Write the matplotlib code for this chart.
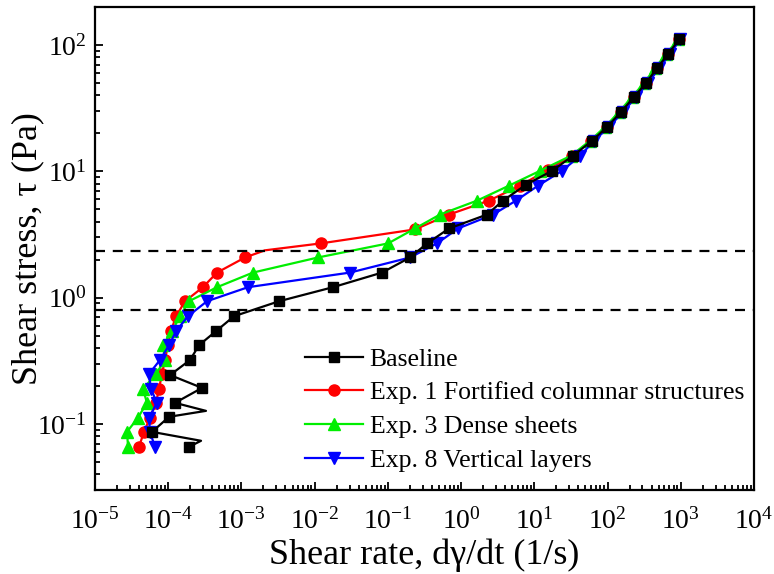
import matplotlib
matplotlib.use('Agg')
import matplotlib.pyplot as plt
from matplotlib.ticker import LogLocator, NullFormatter

plt.rcParams['font.family'] = ['Liberation Serif', 'DejaVu Serif']
plt.rcParams['mathtext.fontset'] = 'custom'
plt.rcParams['mathtext.rm'] = 'Liberation Serif'

# Baseline (two line vertices without markers: index 1 and 4)
base_rate = [1.92e-4, 2.81e-4, 6.01e-5, 1.03e-4, 3.28e-4, 1.24e-4, 2.90e-4, 1.06e-4, 1.99e-4, 2.64e-4,
             4.50e-4, 7.93e-4, 3.27e-3, 0.0178, 0.0834, 0.201, 0.344, 0.686, 2.26, 3.75,
             7.73, 17.5, 33.9, 61.7, 98.9, 153, 231, 336, 476, 673, 951]
base_stress = [0.0659, 0.0736, 0.0866, 0.114, 0.127, 0.147, 0.193, 0.244, 0.321, 0.421,
               0.543, 0.713, 0.937, 1.21, 1.58, 2.08, 2.69, 3.53, 4.55, 5.87,
               7.85, 10.1, 13.3, 17.5, 22.5, 29.6, 38.9, 50.1, 65.8, 84.9, 111]

# Exp. 1 (index 14 is a line vertex without marker)
exp1_rate = [3.99e-5, 4.67e-5, 5.63e-5, 6.81e-5, 7.48e-5, 8.22e-5, 9.03e-5, 9.93e-5, 1.09e-4, 1.28e-4,
             1.70e-4, 2.98e-4, 4.65e-4, 1.12e-3, 2.10e-3, 0.0122, 0.235, 0.686, 2.41, 6.40,
             15.4, 32.8, 59.7, 98.9, 153, 231, 336, 476, 673, 951]
exp1_stress = [0.0659, 0.0866, 0.112, 0.147, 0.189, 0.249, 0.321, 0.421, 0.543, 0.713,
               0.937, 1.21, 1.58, 2.08, 2.37, 2.69, 3.47, 4.55, 5.87, 7.71,
               10.3, 13.3, 17.5, 22.5, 29.6, 38.9, 50.1, 65.8, 84.9, 111]

# Exp. 3
exp3_rate = [2.83e-5, 2.74e-5, 3.86e-5, 5.13e-5, 4.53e-5, 6.81e-5, 9.03e-5, 8.49e-5, 1.13e-4, 1.45e-4,
             1.92e-4, 4.65e-4, 1.44e-3, 0.0111, 0.101, 0.235, 0.516, 1.66, 4.53, 12.0,
             31.8, 57.8, 92.7, 144, 217, 316, 447, 632, 921]
exp3_stress = [0.0659, 0.0866, 0.112, 0.147, 0.189, 0.249, 0.321, 0.421, 0.543, 0.713,
               0.937, 1.21, 1.58, 2.08, 2.69, 3.53, 4.55, 5.87, 7.71, 10.1,
               13.3, 17.5, 22.5, 29.6, 38.9, 50.1, 65.8, 84.9, 111]

# Exp. 8
exp8_rate = [6.60e-5, 5.63e-5, 5.47e-5, 7.03e-5, 5.82e-5, 5.47e-5, 7.73e-5, 1.03e-4, 1.28e-4, 1.86e-4,
             3.39e-4, 1.23e-3, 0.0305, 0.201, 0.470, 0.910, 2.74, 5.64, 11.3, 24.0,
             42.3, 65.6, 105, 163, 246, 359, 507, 716, 982]
exp8_stress = exp3_stress

hlines = [2.35, 0.80]
x_decades = [-5, -4, -3, -2, -1, 0, 1, 2, 3, 4]
y_decades = [-1, 0, 1, 2]

fig = plt.figure(figsize=(7.74, 5.74), dpi=100)
ax = fig.add_axes([0.1227, 0.1463, 0.8514, 0.8415])

lw = 1.6
ms = 8
l1, = ax.plot(exp1_rate, exp1_stress, color='red', marker='o', lw=lw, ms=ms,
              markevery=[i for i in range(len(exp1_rate)) if i != 14],
              label='Exp. 1 Fortified columnar structures')
l3, = ax.plot(exp3_rate, exp3_stress, color='#00ee00', marker='^', lw=lw, ms=ms + 0.5,
              label='Exp. 3 Dense sheets')
l8, = ax.plot(exp8_rate, exp8_stress, color='blue', marker='v', lw=lw, ms=ms + 0.5,
              label='Exp. 8 Vertical layers')
l0, = ax.plot(base_rate, base_stress, color='black', marker='s', lw=lw, ms=ms - 0.5,
              markevery=[i for i in range(len(base_rate)) if i not in (1, 4)],
              label='Baseline')

for h in hlines:
    ax.axhline(h, color='black', lw=1.6, linestyle=(0, (4.5, 3.5)))

ax.set_xscale('log')
ax.set_yscale('log')
ax.set_xlim(1e-5, 1e4)
ax.set_ylim(0.03, 200)

ax.set_xticks([10.0 ** e for e in x_decades])
ax.set_yticks([10.0 ** e for e in y_decades])
ax.xaxis.set_minor_locator(LogLocator(base=10, subs=range(2, 10), numticks=100))
ax.yaxis.set_minor_locator(LogLocator(base=10, subs=range(2, 10), numticks=100))
ax.xaxis.set_minor_formatter(NullFormatter())
ax.yaxis.set_minor_formatter(NullFormatter())

ax.tick_params(which='both', direction='in', top=False, right=False, width=1.3, labelsize=20)
ax.tick_params(which='major', length=6)
ax.tick_params(which='minor', length=3.5)
ax.tick_params(axis='x', pad=13)
ax.tick_params(axis='y', pad=6)
for s in ax.spines.values():
    s.set_linewidth(1.6)

ax.set_xlabel('Shear rate, dγ/dt (1/s)', fontsize=26)
ax.set_ylabel('Shear stress, τ (Pa)', fontsize=26)
ax.xaxis.set_label_coords(0.5, -0.101)
ax.yaxis.set_label_coords(-0.077, 0.5)

ax.legend(handles=[l0, l1, l3, l8], loc='lower left', bbox_to_anchor=(0.292, 0.0),
          frameon=False, fontsize=18.5, handlelength=2.25, handletextpad=0.25,
          labelspacing=0.42, borderaxespad=0.3)

fig.savefig('out.png', dpi=100)
